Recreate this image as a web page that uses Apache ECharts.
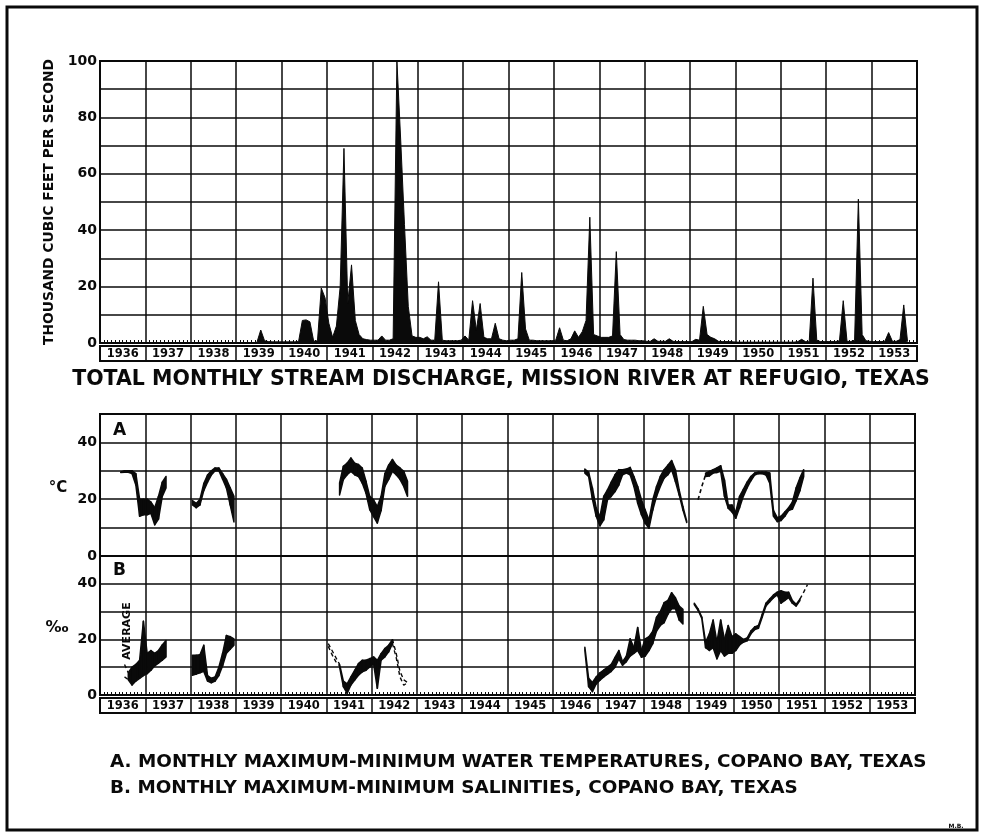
<!DOCTYPE html>
<html><head><meta charset="utf-8">
<script src="https://cdn.jsdelivr.net/npm/echarts@6/dist/echarts.min.js"></script>
<style>html,body{margin:0;padding:0;background:#fff}#c{width:982px;height:834px}</style>
</head><body><div id="c"></div>
<script>
// ---------- categories / ticks ----------
const years = ['1936','1937','1938','1939','1940','1941','1942','1943','1944','1945','1946','1947','1948','1949','1950','1951','1952','1953'];
const topTickLabels = [0, 20, 40, 60, 80, 100];
const panelTickLabels = [0, 20, 40];

// ---------- total monthly discharge (thousand cfs), one row per year from 1939 ----------
const dischargeStartYear = 1939;
const discharge = [
  [null,null,null,null,null,0.3,4.6,0.8,0.5,0.4,0.4,0.4],
  [0.4,0.4,0.4,0.4,0.5,8,8.2,7.5,0.6,0.8,19.5,16],
  [7,2,6,20,69,14,27.7,8,3,1.5,1.2,1],
  [1,1,2.5,1,1,1.5,100,72,42,13,2.5,2],
  [2,1.5,2.2,1,1,21.7,1,0.8,0.8,0.8,0.8,1],
  [2.5,1,15,4.5,14,2,1.5,1.5,7,1.5,1,0.8],
  [1,1,1.5,25,5,1,1,0.8,0.8,0.8,0.8,0.8],
  [1,5.4,1,0.8,1.5,4.3,2,4,8,44.6,3,2.5],
  [2,2,2,2.5,32.4,3,1.2,1,1,1,0.8,0.8],
  [0.6,0.6,1.5,0.6,0.6,0.6,1.5,0.6,0.5,0.5,0.5,0.5],
  [0.5,1.3,1,13,3,2,1.5,0.6,0.5,0.5,0.5,0.4],
  [0.3,0.3,0.3,0.3,0.3,0.3,0.3,0.3,0.3,0.3,0.3,0.3],
  [0.3,0.3,0.3,0.3,0.5,1.3,0.5,0.4,23,1,0.5,0.5],
  [0.5,0.5,0.5,0.8,15,0.6,0.5,1,51,3,0.8,0.6],
  [0.5,0.5,0.5,0.6,3.7,0.6,0.6,1.2,13.5,0.5,null,null]
];

// ---------- A: water temperature (°C), segments [startYear, startMonth(0-11)] ----------
const tempStart = [[1936,5],[1938,0],[1941,3],[1946,8],[1949,4]];
const tempMax = [
  [29.6,30,30,30,29,20,20,20,19,17,21,26,28],
  [19.5,18.5,20,25.5,28.5,30,31,31,29,27,24,21],
  [25.7,31.6,32.7,34.5,32.7,32.2,31,26.3,21,19.8,17.4,21,29,32,34,32,31,29.8,26.3],
  [30.6,29.5,24,17,13.9,21,23.3,26,28.6,30.4,30.4,30.6,31.2,28,24.5,19.8,16.2,12.7,19.8,24.5,28,30.4,32,33.6,30.4,23.3,17.4,12.3],
  [29.2,29.8,30.4,31,31.8,26.8,18,18,15.5,21,23.5,26,28,29.2,29.6,29.6,29.6,29.2,16,13.5,14,15.5,17,19,24,27.5,30.4]
];
const tempMin = [
  [29.4,29.5,29.5,29,25,14,14.5,14.5,15,11,13,21,24],
  [18,17,18,23,26,28.5,30,30,27,24,18,12],
  [21.5,26.9,28.6,29.8,28.6,28,25.7,22.1,16.3,13.9,11.6,16,24.5,27,29.8,28.6,27,24.5,21],
  [29.2,28,20,14,10.6,12.7,19.8,21,22.7,25,28.6,29.2,28.6,24.5,18.6,14.5,11.5,9.8,16.2,21,24.5,27.4,28.6,30.4,26.2,21.5,16.2,11.8],
  [28,28.2,29.2,29.4,29.8,21,16.8,15.5,13.3,17,21,24,26.5,28.5,29,29,28.5,25.6,14,12.1,12.5,14,16,16.5,19.5,23,28]
];
const tempDashStart = [[1949,2]];
const tempDash = [[19.8,24.5,28.6]];

// ---------- B: salinity (‰) ----------
const salStart = [[1936,7],[1938,0],[1941,3],[1946,8],[1949,1]];
const salMax = [
  [8,10,11,12.5,26.5,15,16,15,16,18,19.6],
  [14.3,14.3,14.5,17.9,7,6,6.5,10,15,21.4,21,20.2],
  [11,5,4,6.5,8.9,11.3,12.5,12.5,13.1,13.7,12.5,14.9,16.7,17.9,19.9],
  [17.2,6,4.5,6.5,8,9,10,11,13.5,16,12,14,20.2,17,24.3,16,20.2,21,23,28,30,33.2,34,36.8,35,32,30.8],
  [33,31,28,19,22,27,19,27,20,25,21,22,21,20,20.5,23,24.5,25,29,33,34.5,36,37,37.5,37,37,34,32.6,34.5]
];
const salMin = [
  [5.5,3.6,5,6,7,7.7,8.9,10.5,11.5,12.5,13.7],
  [7.1,7.5,8,8.5,5,4.4,5,7,10.5,15,16.5,17.9],
  [10,3,0.6,3.6,5.4,7.1,8.3,8.9,10.1,11.3,2.4,12.5,13.7,15.5,18.5],
  [16,3,1.2,4,5.3,6.5,7.5,8.5,10,13,10.7,12,14,15,16,13.6,14,16,18.5,23,25,26,29,31,31,27,25.5],
  [32.5,30.5,27.5,17,16,17,13,16,14,15,15,16,18,19,19.5,22,23.5,24,28,32,33.5,35,36,33,34,35,33,32,34]
];
const salDashStart = [[1936,6],[1936,6],[1941,0],[1941,0],[1942,5],[1942,5],[1951,5]];
const salDash = [[11,8],[6.5,5.5],[18.5,16,13.5,11],[17.5,14.5,12,10.5],[20,15,8.5,5.5,4.5],[18.5,13.5,6.5,3.5,4.5],[34.5,37,39.7]];

// ---------- helpers ----------
const FONT = 'DejaVu Sans';
const INK = '#0a0a0a';
function monthX(y, m) { return y + (m + 0.5) / 12; }
function seq(start, vals) {
  return vals.map((v, i) => { const mi = start[1] + i; return [monthX(start[0] + Math.floor(mi / 12), mi % 12), v]; });
}
function bandData(starts, maxs, mins) {
  const out = [];
  starts.forEach((s, k) => {
    const hi = seq(s, maxs[k]), lo = seq(s, mins[k]);
    for (let i = 0; i + 1 < hi.length; i++) out.push([hi[i][0], hi[i][1], lo[i][1], hi[i+1][0], hi[i+1][1], lo[i+1][1]]);
  });
  return out;
}
function bandItem(params, api) {
  const a = api.coord([api.value(0), api.value(1)]);
  const b = api.coord([api.value(3), api.value(4)]);
  const c = api.coord([api.value(3), api.value(5)]);
  const d = api.coord([api.value(0), api.value(2)]);
  return { type: 'polygon', shape: { points: [a, b, c, d] }, style: { fill: INK, stroke: INK, lineWidth: 1.5, lineJoin: 'round' } };
}
const dischargeData = [];
discharge.forEach((row, i) => row.forEach((v, m) => { if (v !== null) dischargeData.push([monthX(dischargeStartYear + i, m), v]); }));

const gridLine = { show: true, lineStyle: { color: INK, width: 1.5 } };
function valueX(gi, minor) {
  return { gridIndex: gi, type: 'value', min: 1936, max: 1954, interval: 1,
    axisLabel: { show: false }, axisLine: { show: false },
    axisTick: { show: false, inside: true },
    minorTick: { show: minor, splitNumber: 12, length: 3, lineStyle: { color: INK, width: 1 } },
    splitLine: gridLine };
}
function stripX(gi) {
  return { gridIndex: gi, type: 'category', data: years, boundaryGap: true,
    axisLine: { show: false }, axisTick: { show: false },
    axisLabel: { inside: true, margin: 1, color: INK, fontFamily: FONT, fontWeight: 'bold', fontSize: 11.5 },
    splitLine: { show: true, interval: 0, lineStyle: { color: INK, width: 1.5 } } };
}
function panelY(gi, max, labels, extra) {
  return Object.assign({ gridIndex: gi, type: 'value', min: 0, max: max, interval: 10,
    axisLine: { show: false }, axisTick: { show: false },
    axisLabel: { color: INK, fontFamily: FONT, fontWeight: 'bold', fontSize: 14, margin: 3,
      formatter: v => labels.indexOf(v) >= 0 ? String(v) : '' },
    splitLine: gridLine }, extra || {});
}
const border = { show: true, borderColor: INK, borderWidth: 2, backgroundColor: 'transparent' };

const series = [
  { type: 'line', xAxisIndex: 0, yAxisIndex: 0, data: dischargeData, symbol: 'none', z: 3,
    lineStyle: { color: INK, width: 1 }, areaStyle: { color: INK, opacity: 1 } },
  { type: 'custom', xAxisIndex: 2, yAxisIndex: 2, renderItem: bandItem, data: bandData(tempStart, tempMax, tempMin),
    encode: { x: [0, 3], y: [1, 2, 4, 5] }, z: 3 },
  { type: 'custom', xAxisIndex: 3, yAxisIndex: 3, renderItem: bandItem, data: bandData(salStart, salMax, salMin),
    encode: { x: [0, 3], y: [1, 2, 4, 5] }, z: 3 }
];
tempDashStart.forEach((s, k) => series.push({ type: 'line', xAxisIndex: 2, yAxisIndex: 2, data: seq(s, tempDash[k]), symbol: 'none', z: 3,
  lineStyle: { color: INK, width: 1.6, type: [4, 3] } }));
salDashStart.forEach((s, k) => series.push({ type: 'line', xAxisIndex: 3, yAxisIndex: 3, data: seq(s, salDash[k]), symbol: 'none', z: 3,
  lineStyle: { color: INK, width: 1.4, type: [4, 3] } }));

const chart = echarts.init(document.getElementById('c'), null, { renderer: 'canvas' });
chart.setOption({
  animation: false,
  backgroundColor: '#fff',
  grid: [
    Object.assign({ left: 100, top: 61, width: 817, height: 282 }, border),
    Object.assign({ left: 100, top: 346, width: 817, height: 15 }, border),
    Object.assign({ left: 100, top: 414, width: 815, height: 142 }, border),
    Object.assign({ left: 100, top: 556, width: 815, height: 139 }, border),
    Object.assign({ left: 100, top: 698, width: 815, height: 15 }, border)
  ],
  xAxis: [valueX(0, true), stripX(1), valueX(2, false), valueX(3, true), stripX(4)],
  yAxis: [
    panelY(0, 100, topTickLabels, { name: 'THOUSAND CUBIC FEET PER SECOND', nameLocation: 'middle', nameRotate: 90, nameGap: 37,
      nameTextStyle: { color: INK, fontFamily: FONT, fontWeight: 'bold', fontSize: 13.8 } }),
    { gridIndex: 1, type: 'value', show: false },
    panelY(2, 50, panelTickLabels),
    panelY(3, 50, panelTickLabels),
    { gridIndex: 4, type: 'value', show: false }
  ],
  graphic: [
    { type: 'rect', shape: { x: 7, y: 7, width: 970, height: 823 }, style: { fill: 'none', stroke: INK, lineWidth: 3 } },
    { type: 'text', x: 501, y: 380, style: { text: 'TOTAL MONTHLY STREAM DISCHARGE, MISSION RIVER AT REFUGIO, TEXAS',
      fontFamily: FONT, fontWeight: 'bold', fontSize: 20.5, fill: INK, align: 'center', verticalAlign: 'middle' } },
    { type: 'text', x: 110, y: 762, style: { text: 'A. MONTHLY MAXIMUM-MINIMUM WATER TEMPERATURES, COPANO BAY, TEXAS',
      fontFamily: FONT, fontWeight: 'bold', fontSize: 18.4, fill: INK, align: 'left', verticalAlign: 'middle' } },
    { type: 'text', x: 110, y: 788, style: { text: 'B. MONTHLY MAXIMUM-MINIMUM SALINITIES, COPANO BAY, TEXAS',
      fontFamily: FONT, fontWeight: 'bold', fontSize: 18.4, fill: INK, align: 'left', verticalAlign: 'middle' } },
    { type: 'text', x: 113, y: 431, style: { text: 'A', fontFamily: FONT, fontWeight: 'bold', fontSize: 17, fill: INK, align: 'left', verticalAlign: 'middle' } },
    { type: 'text', x: 113, y: 571, style: { text: 'B', fontFamily: FONT, fontWeight: 'bold', fontSize: 17, fill: INK, align: 'left', verticalAlign: 'middle' } },
    { type: 'text', x: 58, y: 488, style: { text: '°C', fontFamily: FONT, fontWeight: 'bold', fontSize: 15, fill: INK, align: 'center', verticalAlign: 'middle' } },
    { type: 'text', x: 57, y: 628, style: { text: '‰', fontFamily: FONT, fontWeight: 'bold', fontSize: 16, fill: INK, align: 'center', verticalAlign: 'middle' } },
    { type: 'text', x: 127, y: 631, rotation: Math.PI / 2, style: { text: 'AVERAGE', fontFamily: FONT, fontWeight: 'bold', fontSize: 11,
      fill: INK, align: 'center', verticalAlign: 'middle', backgroundColor: '#fff' } },
    { type: 'text', x: 956, y: 826, style: { text: 'M.B.', fontFamily: FONT, fontWeight: 'bold', fontSize: 6, fill: INK, align: 'center', verticalAlign: 'middle' } }
  ],
  series: series
});
</script></body></html>
